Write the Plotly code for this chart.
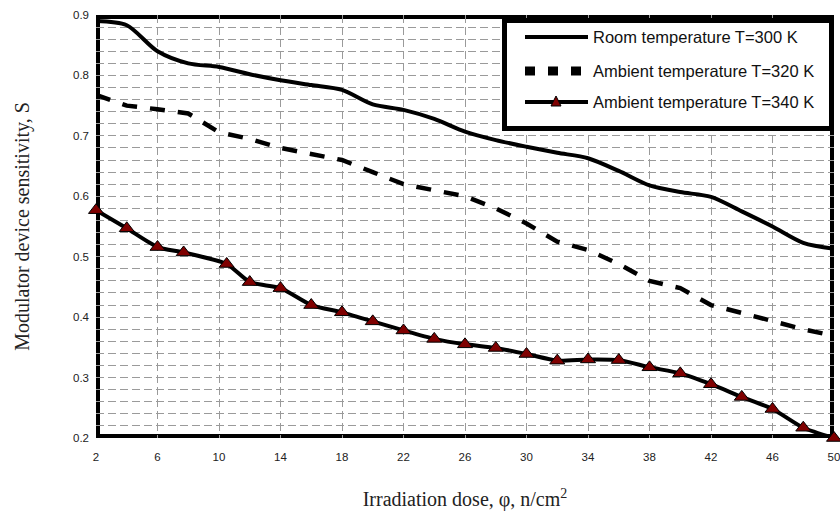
import plotly.graph_objects as go

# ---------------- data ----------------
x_room = [2, 4, 6, 8, 10, 12, 14, 16, 18, 20, 22, 24, 26, 28, 30, 32, 34, 36, 38, 40, 42, 44, 46, 48, 50]
s_room = [0.890, 0.883, 0.840, 0.820, 0.814, 0.802, 0.792, 0.784, 0.776, 0.752, 0.743, 0.728,
          0.707, 0.693, 0.682, 0.672, 0.663, 0.642, 0.618, 0.607, 0.599, 0.575, 0.550, 0.523, 0.513]

x_320 = [2, 4, 6, 8, 10, 12, 14, 16, 18, 20, 22, 24, 26, 28, 30, 32, 34, 36, 38, 40, 42, 44, 46, 48, 50]
s_320 = [0.768, 0.750, 0.744, 0.737, 0.706, 0.695, 0.680, 0.670, 0.660, 0.640, 0.620, 0.610,
         0.600, 0.580, 0.555, 0.525, 0.511, 0.488, 0.460, 0.448, 0.420, 0.407, 0.393, 0.380, 0.369]

x_340 = [2, 4, 6, 7.7, 10.5, 12, 14, 16, 18, 20, 22, 24, 26, 28, 30, 32, 34, 36, 38, 40, 42, 44, 46, 48, 50]
s_340 = [0.577, 0.547, 0.516, 0.507, 0.488, 0.458, 0.448, 0.420, 0.408, 0.393, 0.378, 0.364,
         0.355, 0.349, 0.339, 0.328, 0.330, 0.329, 0.317, 0.307, 0.289, 0.268, 0.248, 0.217, 0.200]

names = ["Room temperature T=300 K", "Ambient temperature T=320 K", "Ambient temperature T=340 K"]
x_ticks = [2, 6, 10, 14, 18, 22, 26, 30, 34, 38, 42, 46, 50]
y_ticks = [0.2, 0.3, 0.4, 0.5, 0.6, 0.7, 0.8, 0.9]

# ---------------- layout geometry (pixels) ----------------
W, H = 840, 512
L, R, T, B = 96, 834, 15, 438


def px(xp):
    return (xp - L) / (R - L)


def py(yp):
    return (B - yp) / (B - T)


fig = go.Figure()

fig.add_trace(go.Scatter(x=x_room, y=s_room, mode="lines", name=names[0],
                         line=dict(color="black", width=4, shape="spline", smoothing=0.8),
                         showlegend=False))
fig.add_trace(go.Scatter(x=x_320, y=s_320, mode="lines", name=names[1],
                         line=dict(color="black", width=4.5, dash="15px,13px"),
                         showlegend=False))
fig.add_trace(go.Scatter(x=x_340, y=s_340, mode="lines+markers", name=names[2],
                         line=dict(color="black", width=4, shape="spline", smoothing=0.6),
                         marker=dict(symbol="triangle-up", size=13, color="#7f0000",
                                     line=dict(color="black", width=1)),
                         cliponaxis=False, showlegend=False))

grid_col = "#9a9a9a"
tick_font = dict(family="Arial, Liberation Sans, sans-serif", size=11.5, color="#222")

fig.update_xaxes(range=[2, 50], tickmode="array", tickvals=x_ticks,
                 ticktext=[str(v) for v in x_ticks], automargin=False,
                 ticklabeloverflow="allow",
                 showgrid=True, gridcolor=grid_col, gridwidth=1, griddash="8px,4px",
                 zeroline=False, showline=False, ticks="", tickfont=tick_font,
                 ticklabelstandoff=10,
                 title=dict(text="Irradiation dose, φ, n/cm<sup>2</sup>",
                            font=dict(family="Liberation Serif, Times New Roman, serif", size=20, color="#222"),
                            standoff=30))
fig.update_yaxes(range=[0.2, 0.9], tickmode="array", tickvals=y_ticks,
                 ticktext=[f"{v:.1f}" for v in y_ticks], automargin=False,
                 ticklabeloverflow="allow",
                 showgrid=True, gridcolor=grid_col, gridwidth=1, griddash="8px,4px",
                 minor=dict(dtick=0.02, tick0=0.2, showgrid=True, gridcolor=grid_col,
                            gridwidth=1, griddash="8px,4px", ticks=""),
                 zeroline=False, showline=False, ticks="", tickfont=tick_font,
                 ticklabelstandoff=6,
                 title=dict(text="Modulator device sensitivity, S",
                            font=dict(family="Liberation Serif, Times New Roman, serif", size=20, color="#222"),
                            standoff=38))

shapes = []
# plot frame
shapes.append(dict(type="rect", xref="x", yref="y", x0=2, x1=50, y0=0.2, y1=0.9,
                   line=dict(color="black", width=8), fillcolor="rgba(0,0,0,0)", layer="below"))
# legend box
shapes.append(dict(type="rect", xref="paper", yref="paper",
                   x0=px(504.5), x1=px(831.5), y0=py(128.5), y1=py(20.5),
                   line=dict(color="black", width=5), fillcolor="white", layer="above"))
# legend samples
rows = [37, 71, 102]
shapes.append(dict(type="line", xref="paper", yref="paper", x0=px(525), x1=px(588),
                   y0=py(rows[0]), y1=py(rows[0]), line=dict(color="black", width=4)))
shapes.append(dict(type="line", xref="paper", yref="paper", x0=px(525), x1=px(586),
                   y0=py(rows[1]), y1=py(rows[1]), line=dict(color="black", width=9, dash="10px,13px")))
shapes.append(dict(type="line", xref="paper", yref="paper", x0=px(525), x1=px(588),
                   y0=py(rows[2]), y1=py(rows[2]), line=dict(color="black", width=4)))
tx, ty = 556, rows[2]
tri = (f"M {px(tx - 5)} {py(ty + 4)} L {px(tx + 5)} {py(ty + 4)} "
       f"L {px(tx)} {py(ty - 6)} Z")
shapes.append(dict(type="path", xref="paper", yref="paper", path=tri,
                   fillcolor="#7f0000", line=dict(color="black", width=1)))

annotations = []
for name, r in zip(names, rows):
    annotations.append(dict(xref="paper", yref="paper", x=px(591), y=py(r), xanchor="left",
                            yanchor="middle", text=name, showarrow=False,
                            font=dict(family="Arial, Liberation Sans, sans-serif", size=16.5, color="#111")))

fig.update_layout(width=W, height=H, margin=dict(l=L, r=W - R, t=T, b=H - B),
                  paper_bgcolor="white", plot_bgcolor="white",
                  shapes=shapes, annotations=annotations, showlegend=False)

fig.write_html("out.html", config={"displayModeBar": False},
               post_script="document.body.style.margin='0px';document.body.style.overflow='hidden';")
